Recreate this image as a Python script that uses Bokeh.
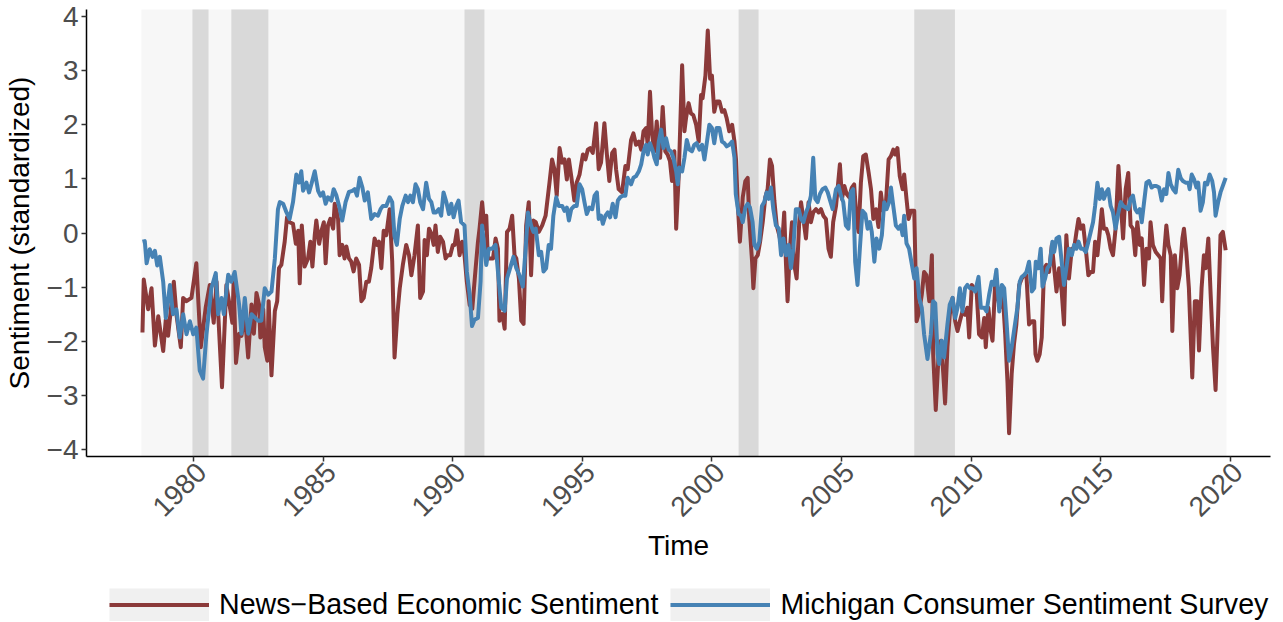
import math
from bokeh.plotting import figure
from bokeh.layouts import column
from bokeh.models import Range1d, FixedTicker, Legend, LegendItem, LinearAxis, CustomJSTickFormatter
from bokeh.embed import file_html
from bokeh.resources import INLINE

# ---------------- data ----------------
news_year = [1978.02,1978.07,1978.24,1978.37,1978.50,1978.63,1978.82,1978.92,1979.01,1979.23,1979.33,1979.50,1979.59,1979.72,1979.91,
 1980.10,1980.27,1980.46,1980.62,1980.77,1980.88,1981.09,1981.26,1981.49,1981.54,1981.63,1981.75,1981.84,1981.97,1982.10,1982.23,
 1982.32,1982.42,1982.52,1982.57,1982.68,1982.74,1982.84,1982.89,1983.00,1983.13,1983.22,1983.29,1983.38,1983.51,1983.60,1983.70,
 1983.83,1983.94,1984.03,1984.09,1984.17,1984.28,1984.41,1984.50,1984.58,1984.67,1984.73,1984.84,1984.93,1985.02,1985.09,1985.18,
 1985.27,1985.38,1985.44,1985.50,1985.57,1985.63,1985.73,1985.82,1985.89,1985.99,1986.08,1986.17,1986.27,1986.38,1986.47,1986.56,
 1986.66,1986.76,1986.85,1986.98,1987.07,1987.15,1987.24,1987.33,1987.43,1987.56,1987.66,1987.75,1987.86,1987.95,1988.07,1988.20,
 1988.31,1988.40,1988.52,1988.65,1988.74,1988.85,1988.91,1989.00,1989.08,1989.17,1989.26,1989.33,1989.42,1989.51,1989.62,1989.72,
 1989.81,1989.90,1990.00,1990.07,1990.16,1990.26,1990.36,1990.45,1990.54,1990.65,1990.75,1990.88,1990.97,1991.03,1991.13,1991.22,
 1991.29,1991.35,1991.48,1991.55,1991.65,1991.74,1991.80,1991.91,1992.00,1992.09,1992.19,1992.29,1992.38,1992.45,1992.55,1992.64,
 1992.73,1992.83,1992.93,1993.02,1993.11,1993.20,1993.32,1993.45,1993.58,1993.73,1993.83,1993.92,1994.01,1994.12,1994.22,1994.31,
 1994.40,1994.48,1994.57,1994.69,1994.78,1994.89,1995.02,1995.12,1995.21,1995.30,1995.40,1995.53,1995.63,1995.72,1995.85,1995.94,
 1996.04,1996.15,1996.24,1996.30,1996.40,1996.53,1996.66,1996.75,1996.88,1996.97,1997.07,1997.18,1997.27,1997.36,1997.46,1997.52,
 1997.61,1997.69,1997.78,1997.87,1997.95,1998.00,1998.10,1998.20,1998.29,1998.38,1998.46,1998.55,1998.62,1998.72,1998.85,1998.94,
 1999.00,1999.10,1999.19,1999.28,1999.39,1999.49,1999.58,1999.64,1999.75,1999.84,1999.93,2000.00,2000.09,2000.18,2000.29,2000.39,
 2000.48,2000.57,2000.67,2000.78,2000.87,2000.93,2000.99,2001.08,2001.19,2001.29,2001.38,2001.44,2001.55,2001.60,2001.68,2001.77,
 2001.86,2001.96,2002.06,2002.15,2002.24,2002.32,2002.41,2002.50,2002.60,2002.70,2002.79,2002.86,2002.92,2003.01,2003.09,2003.18,
 2003.27,2003.37,2003.44,2003.53,2003.63,2003.73,2003.82,2003.91,2004.02,2004.12,2004.21,2004.30,2004.40,2004.50,2004.59,2004.68,
 2004.79,2004.85,2004.94,2005.02,2005.11,2005.20,2005.30,2005.40,2005.49,2005.58,2005.66,2005.75,2005.84,2005.94,2006.05,2006.14,
 2006.23,2006.33,2006.43,2006.52,2006.61,2006.71,2006.82,2006.91,2007.00,2007.07,2007.16,2007.25,2007.36,2007.42,2007.51,2007.59,
 2007.68,2007.81,2007.90,2008.00,2008.10,2008.19,2008.28,2008.39,2008.49,2008.54,2008.64,2008.75,2008.84,2008.93,2009.00,2009.09,
 2009.18,2009.29,2009.39,2009.48,2009.57,2009.67,2009.77,2009.86,2009.93,2010.03,2010.12,2010.21,2010.31,2010.42,2010.51,2010.57,
 2010.67,2010.76,2010.83,2010.93,2011.02,2011.11,2011.21,2011.32,2011.41,2011.47,2011.57,2011.66,2011.75,2011.86,2011.96,2012.05,
 2012.14,2012.24,2012.35,2012.44,2012.49,2012.56,2012.65,2012.73,2012.82,2012.91,2013.01,2013.12,2013.21,2013.30,2013.40,2013.50,
 2013.59,2013.68,2013.78,2013.89,2013.98,2014.07,2014.15,2014.24,2014.33,2014.43,2014.53,2014.62,2014.71,2014.79,2014.88,2014.97,
 2015.05,2015.13,2015.22,2015.30,2015.39,2015.48,2015.58,2015.69,2015.78,2015.87,2015.97,2016.07,2016.16,2016.25,2016.34,2016.42,
 2016.51,2016.59,2016.68,2016.77,2016.87,2016.93,2017.02,2017.13,2017.23,2017.32,2017.38,2017.45,2017.54,2017.62,2017.71,2017.77,
 2017.87,2017.96,2018.05,2018.16,2018.22,2018.31,2018.41,2018.54,2018.64,2018.73,2018.80,2018.90,2018.99,2019.06,2019.16,2019.25,
 2019.34,2019.44,2019.54,2019.63,2019.72,2019.83]
news_value = [-1.84,-0.86,-1.41,-1.02,-2.08,-1.54,-2.18,-1.60,-1.90,-0.90,-1.50,-2.11,-1.20,-1.26,-1.20,
 -0.56,-2.11,-1.38,-0.96,-1.66,-0.90,-2.85,-0.96,-1.66,-0.90,-2.40,-1.86,-1.90,-1.50,-2.30,-1.32,
 -1.86,-1.11,-1.32,-1.93,-1.41,-2.11,-2.36,-1.26,-2.63,-1.44,-1.26,-0.65,-0.59,-0.16,0.29,0.20,
 0.17,-0.20,0.04,-0.93,0.14,-0.62,-0.47,-0.16,-0.62,-0.04,0.23,-0.20,0.04,0.20,-0.56,0.14,
 0.26,0.08,0.54,0.44,0.26,-0.41,-0.22,-0.47,-0.25,-0.47,-0.53,-0.71,-0.47,-0.59,-1.26,-1.20,
 -0.90,-0.90,-0.65,-0.10,-0.22,-0.16,-0.65,0.04,-0.04,0.44,-0.53,-2.30,-1.50,-1.02,-0.59,-0.22,
 -0.41,-0.78,-0.41,0.14,-1.20,-1.08,-0.13,-0.41,0.08,-0.01,-0.22,0.14,-0.35,-0.07,-0.16,-0.47,
 -0.41,-0.41,-0.22,-0.22,0.05,-0.41,-0.16,-0.41,-0.90,-1.33,-1.40,-0.65,-0.16,0.08,0.57,0.08,
 0.32,-0.47,-0.47,-0.47,-0.10,-0.29,-1.62,-1.50,-1.77,0.02,0.08,0.32,-0.41,-0.47,-0.84,-1.62,
 -1.68,0.14,0.57,-0.78,0.23,0.20,0.02,0.14,0.32,0.93,1.36,1.18,0.69,1.57,1.30,1.36,
 0.99,1.36,1.05,0.60,0.93,1.08,1.45,1.36,1.54,1.57,1.48,2.03,1.18,1.30,2.03,1.48,
 0.96,1.48,1.54,1.18,0.81,0.75,1.24,1.18,1.72,1.84,1.63,1.69,1.54,1.88,1.94,1.63,
 2.61,1.82,1.51,2.06,1.51,1.39,2.33,1.51,1.45,1.33,0.96,1.51,0.08,1.08,3.10,1.88,
 2.12,2.40,2.21,2.18,2.00,1.69,2.55,2.49,2.91,3.74,2.85,2.91,2.24,2.43,2.43,2.24,
 2.27,2.12,1.88,2.00,1.69,1.36,0.60,-0.16,0.66,0.96,1.02,0.26,-0.53,-1.02,-0.47,-0.41,
 -0.16,0.20,0.66,0.81,1.36,1.24,0.60,0.14,-0.04,-0.29,0.38,-0.59,-1.26,-0.29,0.20,-0.59,
 -0.84,0.20,0.57,0.26,-0.10,0.57,0.20,0.38,0.44,0.38,0.44,0.32,0.26,-0.29,-0.44,0.20,
 0.50,0.81,1.27,0.63,0.87,0.72,0.66,0.84,0.90,0.26,0.02,0.93,1.42,1.45,1.11,0.81,
 0.26,0.44,0.11,0.75,0.41,0.50,1.36,1.42,1.54,1.45,1.57,1.05,0.81,1.08,0.63,0.26,
 0.41,0.41,-1.63,-1.45,-1.14,-0.72,-0.78,-1.26,-0.41,-2.24,-3.27,-2.24,-1.99,-2.60,-3.15,-2.11,
 -1.51,-1.20,-1.63,-1.81,-1.63,-1.45,-1.51,-1.38,-1.93,-0.96,-1.02,-1.02,-1.87,-1.93,-1.57,-2.11,
 -1.38,-1.81,-1.99,-0.96,-1.14,-1.38,-1.02,-1.87,-2.78,-3.70,-2.60,-2.05,-1.69,-0.96,-0.84,-0.78,
 -0.78,-1.69,-1.63,-1.63,-2.24,-2.36,-2.24,-1.93,-0.65,-0.59,-0.72,-0.22,-0.65,-1.08,-0.65,-1.08,
 -1.69,-0.04,-0.84,-0.29,-0.29,0.02,0.26,0.08,0.14,-0.29,-0.78,-0.72,-0.72,-0.16,-0.41,0.02,
 0.44,0.08,0.08,-0.04,-0.29,-0.41,0.08,1.24,0.57,-0.10,0.81,1.11,0.14,0.08,-0.41,0.20,
 -0.22,-0.10,-0.96,-0.29,-0.47,0.20,-0.22,-0.35,-0.41,-0.47,-1.26,-0.41,0.14,-0.22,-0.41,-1.81,
 -0.41,-1.02,-0.78,-0.10,0.08,-0.35,-1.02,-2.67,-1.26,-1.26,-2.17,-1.02,-0.41,-0.65,-0.10,-1.14,
 -2.11,-2.90,-1.51,-0.04,0.02,-0.32]

mich_year = [1978.02,1978.11,1978.18,1978.30,1978.41,1978.50,1978.59,1978.69,1978.82,1978.92,1979.08,1979.20,1979.33,1979.46,1979.59,
 1979.72,1979.85,1979.98,1980.10,1980.23,1980.36,1980.49,1980.68,1980.85,1980.94,1981.07,1981.16,1981.33,1981.45,1981.58,1981.75,
 1981.84,1981.97,1982.10,1982.23,1982.35,1982.48,1982.61,1982.74,1982.87,1983.00,1983.13,1983.25,1983.32,1983.45,1983.58,1983.70,
 1983.83,1983.96,1984.06,1984.15,1984.22,1984.35,1984.45,1984.54,1984.67,1984.80,1984.89,1984.99,1985.09,1985.18,1985.31,1985.40,
 1985.50,1985.61,1985.73,1985.86,1985.99,1986.12,1986.21,1986.30,1986.40,1986.51,1986.60,1986.72,1986.85,1986.98,1987.11,1987.21,
 1987.30,1987.43,1987.56,1987.66,1987.75,1987.84,1987.95,1988.05,1988.18,1988.27,1988.36,1988.46,1988.56,1988.65,1988.74,1988.85,
 1988.97,1989.08,1989.17,1989.26,1989.35,1989.46,1989.55,1989.64,1989.75,1989.85,1989.94,1990.03,1990.13,1990.22,1990.32,1990.45,
 1990.54,1990.65,1990.74,1990.84,1990.97,1991.07,1991.13,1991.22,1991.29,1991.39,1991.52,1991.65,1991.74,1991.87,1992.00,1992.09,
 1992.21,1992.34,1992.45,1992.57,1992.70,1992.81,1992.90,1993.02,1993.11,1993.20,1993.32,1993.41,1993.50,1993.60,1993.70,1993.79,
 1993.88,1993.99,1994.09,1994.22,1994.31,1994.40,1994.48,1994.57,1994.69,1994.78,1994.89,1994.99,1995.08,1995.17,1995.27,1995.38,
 1995.47,1995.56,1995.63,1995.72,1995.79,1995.89,1995.98,1996.07,1996.17,1996.28,1996.37,1996.46,1996.56,1996.66,1996.75,1996.88,
 1996.97,1997.07,1997.18,1997.27,1997.36,1997.46,1997.52,1997.61,1997.72,1997.78,1997.87,1997.95,1998.04,1998.13,1998.23,1998.33,
 1998.42,1998.51,1998.62,1998.68,1998.74,1998.85,1998.94,1999.03,1999.13,1999.23,1999.32,1999.41,1999.52,1999.62,1999.71,1999.80,
 1999.90,2000.00,2000.09,2000.18,2000.29,2000.39,2000.48,2000.57,2000.67,2000.78,2000.87,2000.92,2001.03,2001.12,2001.19,2001.29,
 2001.38,2001.47,2001.57,2001.64,2001.73,2001.83,2001.93,2002.02,2002.11,2002.19,2002.28,2002.37,2002.47,2002.58,2002.67,2002.76,
 2002.86,2002.96,2003.05,2003.14,2003.24,2003.35,2003.44,2003.53,2003.63,2003.73,2003.82,2003.91,2003.99,2004.08,2004.17,2004.27,
 2004.38,2004.47,2004.56,2004.66,2004.79,2004.89,2004.98,2005.07,2005.17,2005.27,2005.36,2005.45,2005.53,2005.62,2005.71,2005.81,
 2005.92,2006.01,2006.10,2006.17,2006.27,2006.35,2006.46,2006.56,2006.65,2006.74,2006.84,2006.91,2007.00,2007.10,2007.20,2007.29,
 2007.36,2007.42,2007.51,2007.61,2007.72,2007.81,2007.90,2008.00,2008.10,2008.19,2008.32,2008.45,2008.54,2008.62,2008.71,2008.77,
 2008.87,2008.96,2009.09,2009.18,2009.29,2009.39,2009.48,2009.57,2009.67,2009.77,2009.86,2009.95,2010.06,2010.16,2010.29,2010.38,
 2010.51,2010.60,2010.70,2010.80,2010.89,2010.98,2011.09,2011.19,2011.28,2011.37,2011.47,2011.57,2011.66,2011.79,2011.88,2011.96,
 2012.05,2012.14,2012.24,2012.35,2012.44,2012.50,2012.60,2012.69,2012.76,2012.86,2012.95,2013.04,2013.14,2013.21,2013.30,2013.40,
 2013.50,2013.59,2013.68,2013.78,2013.89,2013.98,2014.07,2014.15,2014.24,2014.33,2014.43,2014.53,2014.62,2014.71,2014.79,2014.88,
 2014.97,2015.05,2015.13,2015.22,2015.30,2015.39,2015.48,2015.58,2015.69,2015.78,2015.87,2015.97,2016.07,2016.16,2016.25,2016.34,
 2016.42,2016.51,2016.59,2016.68,2016.77,2016.87,2016.97,2017.06,2017.15,2017.26,2017.36,2017.45,2017.54,2017.62,2017.71,2017.80,
 2017.90,2018.00,2018.09,2018.18,2018.28,2018.39,2018.44,2018.52,2018.61,2018.70,2018.77,2018.86,2018.95,2019.03,2019.12,2019.21,
 2019.31,2019.38,2019.44,2019.54,2019.63,2019.72,2019.83]
mich_value = [-0.16,-0.15,-0.56,-0.30,-0.44,-0.33,-0.60,-0.44,-0.90,-1.57,-0.96,-1.50,-1.41,-1.93,-1.50,
 -1.87,-1.63,-1.87,-1.75,-2.54,-2.69,-1.87,-1.02,-0.74,-1.50,-1.20,-1.50,-0.77,-0.90,-0.72,-1.32,
 -1.86,-1.20,-1.86,-1.50,-1.56,-1.62,-1.62,-1.02,-1.14,-1.08,-0.47,0.44,0.57,0.54,0.38,0.26,
 0.57,1.08,0.93,1.14,0.78,0.93,0.75,0.90,1.14,0.78,0.69,0.75,0.54,0.66,0.60,0.81,
 0.70,0.50,0.23,0.57,0.76,0.78,0.81,0.69,1.02,0.84,0.60,0.75,0.26,0.35,0.32,0.44,
 0.50,0.50,0.66,0.57,-0.07,-0.22,0.26,0.50,0.69,0.57,0.69,0.57,0.90,0.81,0.57,0.44,
 0.93,0.63,0.57,0.38,0.38,0.44,0.32,0.75,0.57,0.35,0.54,0.29,0.50,0.60,0.20,0.14,
 -0.71,-1.14,-1.72,-1.60,-1.57,-0.90,0.14,-0.29,-0.59,-0.29,-0.29,-0.22,-0.71,-1.38,-1.44,-0.84,
 -0.65,-0.44,-0.65,-0.78,-0.99,-0.29,0.38,0.14,0.02,0.08,-0.41,-0.35,-0.71,-0.65,-0.22,-0.29,
 0.32,0.66,0.50,0.50,0.41,0.47,0.23,0.44,0.50,0.50,0.90,0.81,0.57,0.35,0.47,0.44,
 0.69,0.75,0.26,0.32,0.17,0.32,0.38,0.29,0.54,0.29,0.60,0.66,0.69,0.69,1.02,0.90,
 1.02,1.05,1.14,1.27,1.51,1.63,1.45,1.66,1.51,1.39,1.27,1.69,1.91,1.57,1.75,1.54,
 1.51,1.39,1.14,0.90,1.21,1.14,1.39,1.72,1.54,1.51,1.63,1.66,1.54,1.63,1.36,1.66,
 2.00,1.94,1.66,1.94,1.94,1.69,1.66,1.60,1.63,1.69,1.39,0.72,0.35,0.32,0.20,0.47,
 0.54,0.47,0.20,-0.22,-0.29,-0.16,0.50,0.57,0.75,0.63,0.84,0.44,0.14,0.08,-0.41,-0.10,
 -0.41,-0.22,-0.65,-0.29,0.44,0.44,0.26,0.20,0.38,0.50,0.69,1.39,0.63,0.57,0.72,0.81,
 0.84,0.75,0.60,0.44,0.81,0.87,0.69,0.57,0.14,0.08,0.75,0.81,-0.53,-0.96,-0.29,0.41,
 0.35,0.08,0.20,0.02,-0.53,-0.10,-0.29,-0.04,0.57,0.44,0.57,0.84,0.50,0.14,0.08,0.14,
 -0.04,0.32,-0.19,-0.29,-0.59,-0.84,-0.65,-1.20,-1.38,-1.87,-2.33,-1.87,-1.26,-1.30,-2.24,-2.42,
 -1.99,-2.30,-1.69,-1.32,-1.20,-1.57,-1.38,-1.02,-1.45,-1.02,-0.96,-1.02,-1.02,-1.08,-0.81,-1.38,
 -1.38,-1.45,-1.14,-0.90,-0.96,-0.68,-1.45,-0.96,-1.02,-1.63,-2.36,-2.11,-1.81,-1.38,-0.90,-0.81,
 -0.78,-0.72,-0.53,-1.08,-1.02,-0.53,-0.65,-0.29,-0.99,-0.84,-0.65,-0.59,-0.16,-0.35,-0.10,-0.07,
 -0.53,-0.96,-0.65,-0.29,-0.41,-0.22,-0.29,-0.16,-0.29,-0.29,-0.35,-0.16,0.02,0.20,0.50,0.93,
 0.63,0.81,0.63,0.75,0.81,0.50,0.38,0.08,0.38,0.57,0.50,0.47,0.44,0.63,0.69,0.44,
 0.38,0.44,0.20,0.57,0.93,0.96,0.84,0.87,0.87,0.84,0.60,0.81,0.72,1.11,0.90,0.81,
 0.75,1.17,1.02,0.96,0.93,0.93,0.81,1.08,0.99,0.84,0.93,0.41,0.57,0.93,0.90,1.08,
 0.96,0.75,0.32,0.57,0.75,0.87,1.02]

recession_start = [1979.95, 1981.45, 1990.45, 2001.03, 2007.81]
recession_end = [1980.57, 1982.88, 1991.22, 2001.80, 2009.38]
sample_start = [1977.98]
sample_end = [2019.86]

x_ticks = [1980, 1985, 1990, 1995, 2000, 2005, 2010, 2015, 2020]
y_ticks = [-4, -3, -2, -1, 0, 1, 2, 3, 4]
series_labels = ["News\u2212Based Economic Sentiment", "Michigan Consumer Sentiment Survey"]

RED = "#8B3A3A"
BLUE = "#4682B4"
FONT = "Liberation Sans"
LW = 4
LABEL_SHIFT = 0.3   # horizontal nudge (in years) of the rotated year labels

# ---------------- main chart ----------------
p = figure(width=1283, height=566, output_backend="svg", toolbar_location=None,
           x_range=Range1d(1975.86, 2021.56), y_range=Range1d(-4.13, 4.13),
           min_border_left=85, min_border_right=13, min_border_top=9, min_border_bottom=110)
p.outline_line_color = None
p.grid.visible = False
p.background_fill_color = "white"
p.border_fill_color = "white"

p.quad(left=sample_start, right=sample_end, bottom=[-10], top=[10],
       fill_color="#f7f7f7", line_color=None)
p.quad(left=recession_start, right=recession_end,
       bottom=[-10] * len(recession_start), top=[10] * len(recession_start),
       fill_color="#d9d9d9", line_color=None)

p.line(news_year, news_value, line_color=RED, line_width=LW, line_join="round")
p.line(mich_year, mich_value, line_color=BLUE, line_width=LW, line_join="round")

for ax in (p.xaxis[0], p.yaxis[0]):
    ax.axis_line_color = "black"
    ax.axis_line_width = 1.5
    ax.major_tick_line_color = "#333333"
    ax.major_tick_line_width = 1.5
    ax.major_tick_out = 5
    ax.major_tick_in = 0
    ax.major_label_text_font = FONT
    ax.major_label_text_font_size = "28px"
    ax.major_label_text_color = "#4d4d4d"
    ax.axis_label_text_font = FONT
    ax.axis_label_text_font_size = "28px"
    ax.axis_label_text_font_style = "normal"
    ax.axis_label_text_color = "black"

# x axis line: tick marks only (drawn as label-free minor ticks at the years)
xa = p.xaxis[0]
xa.ticker = FixedTicker(ticks=[], minor_ticks=x_ticks)
xa.minor_tick_line_color = "#333333"
xa.minor_tick_line_width = 1.5
xa.minor_tick_out = 5
xa.minor_tick_in = 0
xa.major_label_standoff = 0

ya = p.yaxis[0]
ya.minor_tick_line_color = None
ya.ticker = FixedTicker(ticks=y_ticks)
ya.major_label_overrides = {t: ("\u2212" + str(abs(t)) if t < 0 else str(t)) for t in y_ticks}
ya.major_label_standoff = 3
ya.axis_label = "Sentiment (standardized)"
ya.axis_label_standoff = 9

# second bottom axis carrying the rotated year labels and the title
label_axis = LinearAxis(
    ticker=FixedTicker(ticks=[t + LABEL_SHIFT for t in x_ticks]),
    formatter=CustomJSTickFormatter(code="return String(Math.round(tick - %s));" % LABEL_SHIFT),
    axis_line_color=None, major_tick_line_color=None, minor_tick_line_color=None,
    major_tick_out=0, major_tick_in=0,
    major_label_orientation=math.pi / 4, major_label_standoff=6,
    major_label_text_font=FONT, major_label_text_font_size="28px", major_label_text_color="#4d4d4d",
    axis_label="Time", axis_label_text_font=FONT, axis_label_text_font_size="28px",
    axis_label_text_font_style="normal", axis_label_text_color="black", axis_label_standoff=2)
p.add_layout(label_axis, "below")

# ---------------- legend strip ----------------
lg = figure(width=1283, height=56, output_backend="svg", toolbar_location=None,
            x_range=Range1d(0, 1), y_range=Range1d(0, 1),
            x_axis_location=None, y_axis_location=None,
            min_border_left=0, min_border_right=0, min_border_top=0, min_border_bottom=0)
lg.outline_line_color = None
lg.grid.visible = False

key_bg = lg.line([5, 6], [5, 6], line_color="#f0f0f0", line_width=33, line_cap="butt")
k_news = lg.line([5, 6], [5, 6], line_color=RED, line_width=LW)
k_mich = lg.line([5, 6], [5, 6], line_color=BLUE, line_width=LW)

legend = Legend(items=[LegendItem(label=series_labels[0], renderers=[key_bg, k_news]),
                       LegendItem(label=series_labels[1], renderers=[key_bg, k_mich])],
                orientation="horizontal", location=(23, 1),
                glyph_width=100, glyph_height=33, label_height=33, label_standoff=10,
                spacing=12, padding=0, margin=0,
                label_text_font=FONT, label_text_font_size="28.6px", label_text_color="black",
                border_line_color=None, background_fill_alpha=0)
lg.add_layout(legend, "center")

layout = column(p, lg, spacing=0)
open("out.html", "w").write(file_html(layout, INLINE))
